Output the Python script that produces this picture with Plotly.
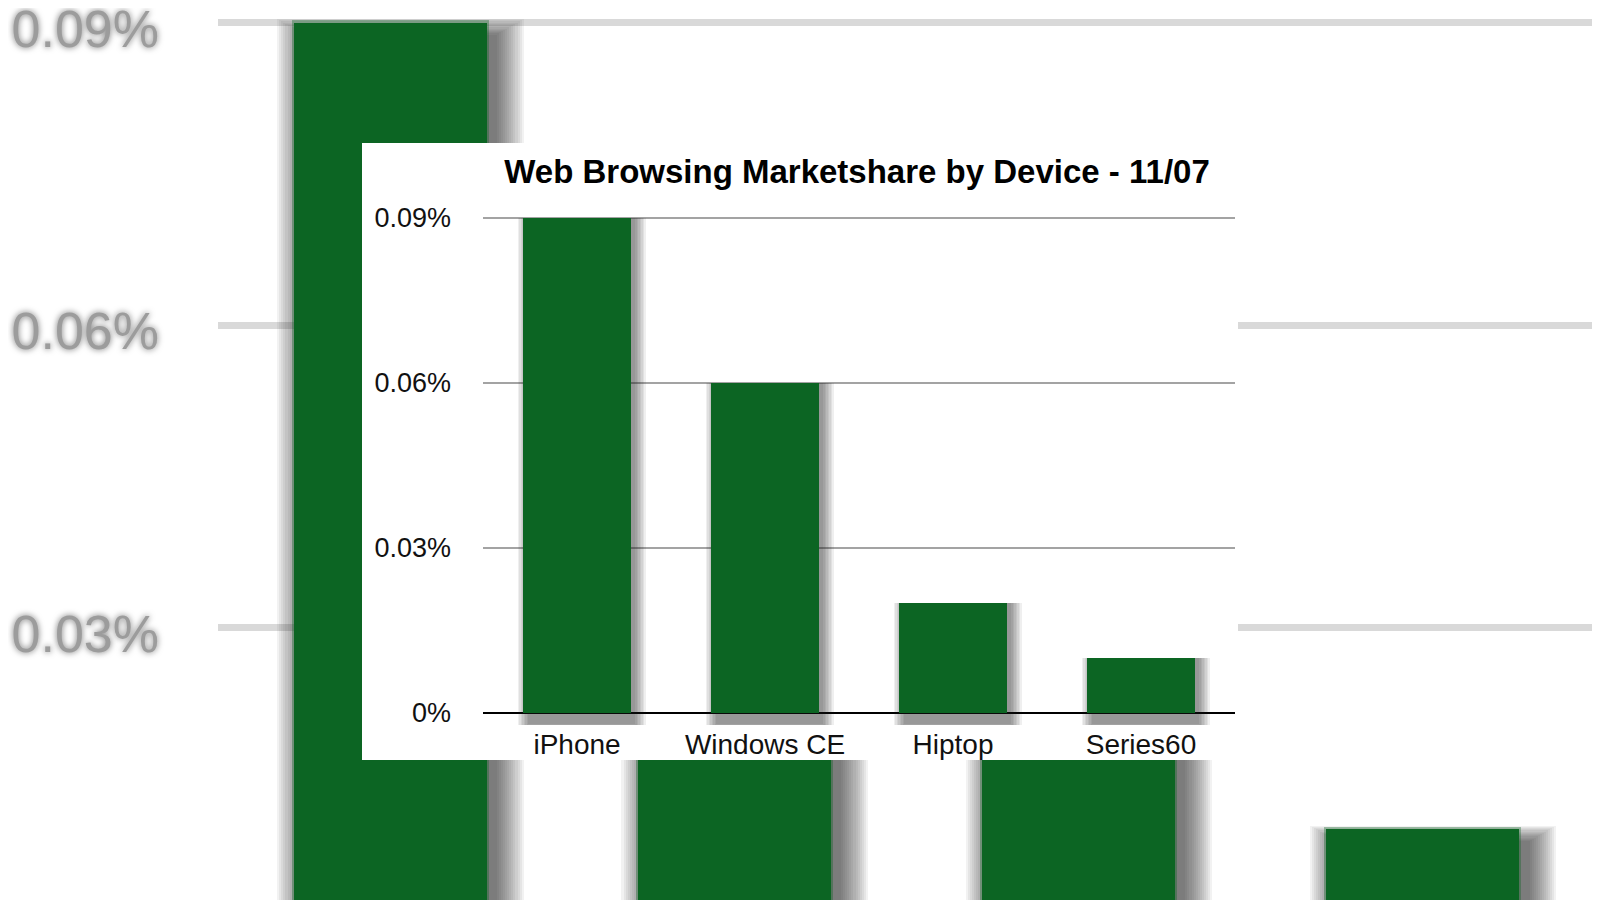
import plotly.graph_objects as go

# ---------------- data ----------------
categories = ["iPhone", "Windows CE", "Hiptop", "Series60"]
share_pct = [0.09, 0.06, 0.02, 0.01]          # percent values
tick_vals = [0, 0.03, 0.06, 0.09]
tick_text = ["0%", "0.03%", "0.06%", "0.09%"]
bg_tick_vals = [0.03, 0.06, 0.09]
bg_tick_text = ["0.03%", "0.06%", "0.09%"]
title_text = "Web Browsing Marketshare by Device - 11/07"

# ---------------- style ----------------
W, H = 1600, 900
OFF = 8            # page body margin of the html page
GREEN = "#0c6523"
FONT = "Liberation Sans"


def px_x(p):
    return (p - OFF) / W


def px_y(p):
    return 1 - (p - OFF) / H


fig = go.Figure()

# ===== background (enlarged, blurred copy of the chart) =====
bg_w = 0.56
for k in range(14):
    e = k * 0.006
    fig.add_trace(go.Bar(
        x=categories, y=[v - 0.0012 + 0.00012 * k + 0.003 for v in share_pct], base=-0.003,
        width=bg_w + 2 * e, offset=-bg_w / 2 + 0.03 - e,
        marker=dict(color="rgba(40,40,40,0.06)", line_width=0),
        xaxis="x", yaxis="y", hoverinfo="skip", showlegend=False))
fig.add_trace(go.Bar(
    x=categories, y=[v + 0.0002 for v in share_pct], base=0,
    width=bg_w + 0.012, offset=-(bg_w + 0.012) / 2,
    marker=dict(color="rgba(12,101,35,0.35)", line_width=0),
    xaxis="x", yaxis="y", hoverinfo="skip", showlegend=False))
fig.add_trace(go.Bar(
    x=categories, y=share_pct, width=bg_w, offset=-bg_w / 2,
    marker=dict(color=GREEN, line_width=0),
    xaxis="x", yaxis="y", hoverinfo="skip", showlegend=False))

# ===== white panel (empty subplot whose background covers the back chart) =====
fig.add_trace(go.Scatter(x=[], y=[], xaxis="x2", yaxis="y2",
                         showlegend=False, hoverinfo="skip"))

# ===== foreground chart =====
fg_w = 0.57
for k in range(8):
    e = k * 0.008
    fig.add_trace(go.Bar(
        x=categories, y=[v + 0.0020 + 0.0003 * k for v in share_pct],
        base=-0.0020 - 0.0003 * k,
        width=fg_w + 2 * e, offset=-fg_w / 2 + 0.025 - e,
        marker=dict(color="rgba(30,30,30,0.07)", line_width=0),
        xaxis="x3", yaxis="y3", hoverinfo="skip", showlegend=False))
fig.add_trace(go.Bar(
    x=categories, y=share_pct, width=fg_w, offset=-fg_w / 2,
    marker=dict(color=GREEN, line_width=0),
    xaxis="x3", yaxis="y3", hoverinfo="skip", showlegend=False))

# ---------------- layout ----------------
bg_px_per_unit = 302.5 / 0.03
bg_zero_px = 930 - OFF
bg_range = [(bg_zero_px - H) / bg_px_per_unit, bg_zero_px / bg_px_per_unit]
bg_cat_px = 344.0

fg_px_per_unit = (713 - 218) / 0.09
fg_range = [-0.0022, 0.0903]
fg_top = 713 - fg_range[1] * fg_px_per_unit
fg_bottom = 713 - fg_range[0] * fg_px_per_unit

fig.update_layout(
    width=W, height=H,
    margin=dict(l=0, r=0, t=0, b=0, pad=0, autoexpand=False),
    paper_bgcolor="white", plot_bgcolor="white",
    barmode="overlay", bargap=0,
    showlegend=False,
    font=dict(family=FONT, color="#111111"),
    title=dict(text="<b>" + title_text + "</b>",
               x=px_x(857), xref="paper", xanchor="center",
               y=px_y(171), yref="paper", yanchor="middle",
               font=dict(family=FONT, size=33, color="#000000")),
    xaxis=dict(domain=[px_x(218), 1.0],
               range=[-0.5, 3.5 + (W + OFF - 1595) / bg_cat_px],
               showticklabels=False, showgrid=False, zeroline=False,
               showline=False, ticks="", fixedrange=True),
    yaxis=dict(domain=[0, 1], range=bg_range,
               tickvals=bg_tick_vals, ticktext=bg_tick_text,
               showgrid=True, gridcolor="#d9d9d9", gridwidth=7,
               zeroline=False, showline=False, ticks="",
               ticklabelstandoff=58, ticklabelshift=6,
               ticklabeloverflow="allow",
               tickfont=dict(family=FONT, size=52, color="#9c9c9c",
                             shadow="0px 0px 6px #707070"),
               fixedrange=True),
    xaxis2=dict(domain=[px_x(362), px_x(1238)], range=[0, 1],
                anchor="y2", visible=False, fixedrange=True),
    yaxis2=dict(domain=[px_y(760), px_y(143)], range=[0, 1],
                anchor="x2", visible=False, fixedrange=True),
    xaxis3=dict(domain=[px_x(483), px_x(1235)], range=[-0.5, 3.5],
                anchor="y3", showgrid=False, zeroline=False, showline=False,
                ticks="", ticklabelstandoff=0,
                tickfont=dict(family=FONT, size=28, color="#111111"),
                fixedrange=True),
    yaxis3=dict(domain=[px_y(fg_bottom), px_y(fg_top)], range=fg_range,
                anchor="x3", tickvals=tick_vals, ticktext=tick_text,
                showgrid=True, gridcolor="#a3a3a3", gridwidth=2,
                zeroline=True, zerolinecolor="#000000", zerolinewidth=2,
                showline=False, ticks="", ticklabelstandoff=31,
                tickfont=dict(family=FONT, size=27, color="#111111"),
                fixedrange=True),
)

fig.write_html("out.html")
